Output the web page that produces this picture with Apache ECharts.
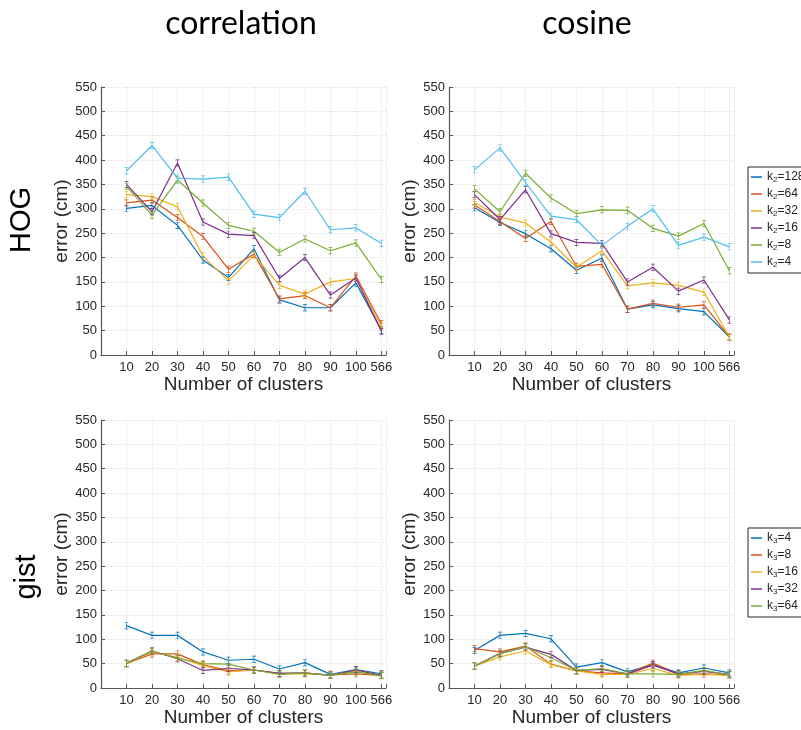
<!DOCTYPE html>
<html>
<head>
<meta charset="utf-8">
<script src="https://cdn.jsdelivr.net/npm/echarts@6/dist/echarts.min.js"></script>
<style>
  html, body { margin: 0; background: #fff; }
  #main { width: 801px; height: 730px; }
</style>
</head>
<body>
<div id="main"></div>
<script>
// x categories and y ticks
const clusters = ['10', '20', '30', '40', '50', '60', '70', '80', '90', '100', '566'];
const yMax = 550;
const yStep = 50;

const hogK = ['128', '64', '32', '16', '8', '4'];
const gistK = ['4', '8', '16', '32', '64'];
const colors = ['#0072BD', '#D95319', '#EDB120', '#7E2F8E', '#77AC30', '#4DBEEE'];

// HOG features, one row per k2 (128, 64, 32, 16, 8, 4)
const hogCorrelation = [
  [301, 307, 266, 195, 159, 218, 113, 97, 97, 148, 51],
  [312, 318, 282, 243, 176, 207, 115, 122, 97, 162, 64],
  [329, 325, 304, 203, 152, 205, 143, 125, 150, 157, 58],
  [350, 294, 394, 273, 248, 245, 157, 200, 123, 158, 48],
  [346, 287, 359, 312, 266, 254, 211, 238, 214, 230, 155],
  [378, 430, 363, 361, 365, 289, 282, 336, 257, 261, 229]
];
const hogCosine = [
  [302, 272, 249, 218, 174, 199, 94, 103, 95, 89, 37],
  [308, 274, 239, 274, 182, 186, 94, 106, 98, 103, 37],
  [313, 283, 271, 232, 180, 214, 142, 148, 143, 129, 37],
  [329, 278, 339, 249, 231, 229, 150, 180, 131, 154, 72],
  [341, 294, 373, 322, 290, 298, 297, 260, 244, 270, 173],
  [380, 425, 354, 285, 278, 225, 264, 300, 225, 242, 222]
];

// gist features, one row per k3 (4, 8, 16, 32, 64)
const gistCorrelation = [
  [128, 108, 108, 74, 57, 59, 39, 52, 28, 38, 29],
  [50, 70, 70, 48, 35, 37, 30, 30, 27, 29, 26],
  [50, 74, 63, 46, 33, 37, 29, 29, 27, 35, 27],
  [51, 76, 60, 36, 40, 37, 30, 31, 26, 37, 26],
  [51, 76, 61, 50, 49, 37, 28, 31, 26, 33, 25]
];
const gistCosine = [
  [77, 108, 112, 101, 43, 52, 33, 48, 31, 41, 31],
  [81, 74, 86, 49, 35, 31, 29, 51, 28, 29, 27],
  [45, 64, 76, 48, 35, 28, 28, 40, 26, 28, 26],
  [45, 71, 84, 69, 36, 38, 29, 47, 29, 34, 28],
  [45, 70, 85, 62, 36, 40, 29, 29, 28, 36, 27]
];

const FONT = 'Liberation Sans';
const INK = '#262626';
// little I-beam, looks like matlab errorbar caps
const errSymbol = 'path://M0,0H6V1H3.5V9H6V10H0V9H2.5V1H0Z';

const panels = [
  { left: 101, top: 87, rows: hogCorrelation, keys: hogK, sub: '2' },
  { left: 449, top: 87, rows: hogCosine, keys: hogK, sub: '2' },
  { left: 101, top: 420, rows: gistCorrelation, keys: gistK, sub: '3' },
  { left: 449, top: 420, rows: gistCosine, keys: gistK, sub: '3' }
];

const grids = [], xAxes = [], yAxes = [], series = [];
panels.forEach(function (p, gi) {
  grids.push({ left: p.left, top: p.top, width: 285, height: 268 });
  xAxes.push({
    gridIndex: gi, type: 'value', min: 0, max: 11.18, interval: 1,
    name: 'Number of clusters', nameLocation: 'middle', nameGap: 19,
    nameTextStyle: { fontFamily: FONT, fontSize: 19, color: INK },
    axisLine: { show: true, lineStyle: { color: '#555', width: 1.2 } },
    axisTick: { show: true, inside: true, length: 4, lineStyle: { color: '#555' } },
    axisLabel: {
      fontFamily: FONT, fontSize: 13, color: INK, margin: 6,
      formatter: function (v) {
        return (Number.isInteger(v) && v >= 1 && v <= clusters.length) ? clusters[v - 1] : '';
      }
    },
    splitLine: { show: true, lineStyle: { type: 'dotted', color: '#e2e2e2' } }
  });
  yAxes.push({
    gridIndex: gi, type: 'value', min: 0, max: yMax, interval: yStep,
    name: 'error (cm)', nameLocation: 'middle', nameGap: 28, nameRotate: 90,
    nameTextStyle: { fontFamily: FONT, fontSize: 19, color: INK },
    axisLine: { show: true, lineStyle: { color: '#555', width: 1.2 } },
    axisTick: { show: true, inside: true, length: 4, lineStyle: { color: '#555' } },
    axisLabel: { fontFamily: FONT, fontSize: 13, color: INK, margin: 4 },
    splitLine: { show: true, lineStyle: { type: 'dotted', color: '#e2e2e2' } }
  });
  p.rows.forEach(function (vals, si) {
    series.push({
      name: 'k' + p.sub + '=' + p.keys[si],
      type: 'line',
      xAxisIndex: gi, yAxisIndex: gi,
      data: vals.map(function (v, i) { return [i + 1, v]; }),
      symbol: errSymbol, symbolSize: [4, 7],
      color: colors[si],
      lineStyle: { width: 1.2 },
      emphasis: { disabled: true }
    });
  });
});

function legendFor(keys, sub, top) {
  return {
    left: 748, top: top, orient: 'vertical', icon: 'rect',
    data: keys.map(function (k) { return 'k' + sub + '=' + k; }),
    itemWidth: 11, itemHeight: 1.5, itemGap: 4,
    borderColor: INK, borderWidth: 1, padding: [4, 30, 4, 3],
    selectedMode: false,
    formatter: function (name) {
      const m = name.match(/^k(\d)=(.*)$/);
      return '{t|k}{s|' + m[1] + '}{t|=' + m[2] + '}';
    },
    textStyle: {
      fontFamily: FONT, color: INK, fontSize: 12,
      rich: {
        t: { fontFamily: FONT, fontSize: 12, color: INK },
        s: { fontFamily: FONT, fontSize: 8, color: INK, padding: [6, 0, 0, 0] }
      }
    }
  };
}

function label(text, x, y, font, rot) {
  return {
    type: 'text', x: x, y: y, rotation: rot || 0,
    style: { text: text, font: font, fill: '#000', align: 'center', verticalAlign: 'middle' }
  };
}

const chart = echarts.init(document.getElementById('main'), null, { renderer: 'canvas' });
chart.setOption({
  animation: false,
  backgroundColor: '#fff',
  grid: grids,
  xAxis: xAxes,
  yAxis: yAxes,
  legend: [legendFor(hogK, '2', 167), legendFor(gistK, '3', 528)],
  graphic: [
    label('correlation', 241, 24, '32px Lato'),
    label('cosine', 587, 24, '32px Lato'),
    label('HOG', 22, 220, '29px "Liberation Sans"', Math.PI / 2),
    label('gist', 27, 577, '29px "Liberation Sans"', Math.PI / 2)
  ],
  series: series
});
</script>
</body>
</html>
